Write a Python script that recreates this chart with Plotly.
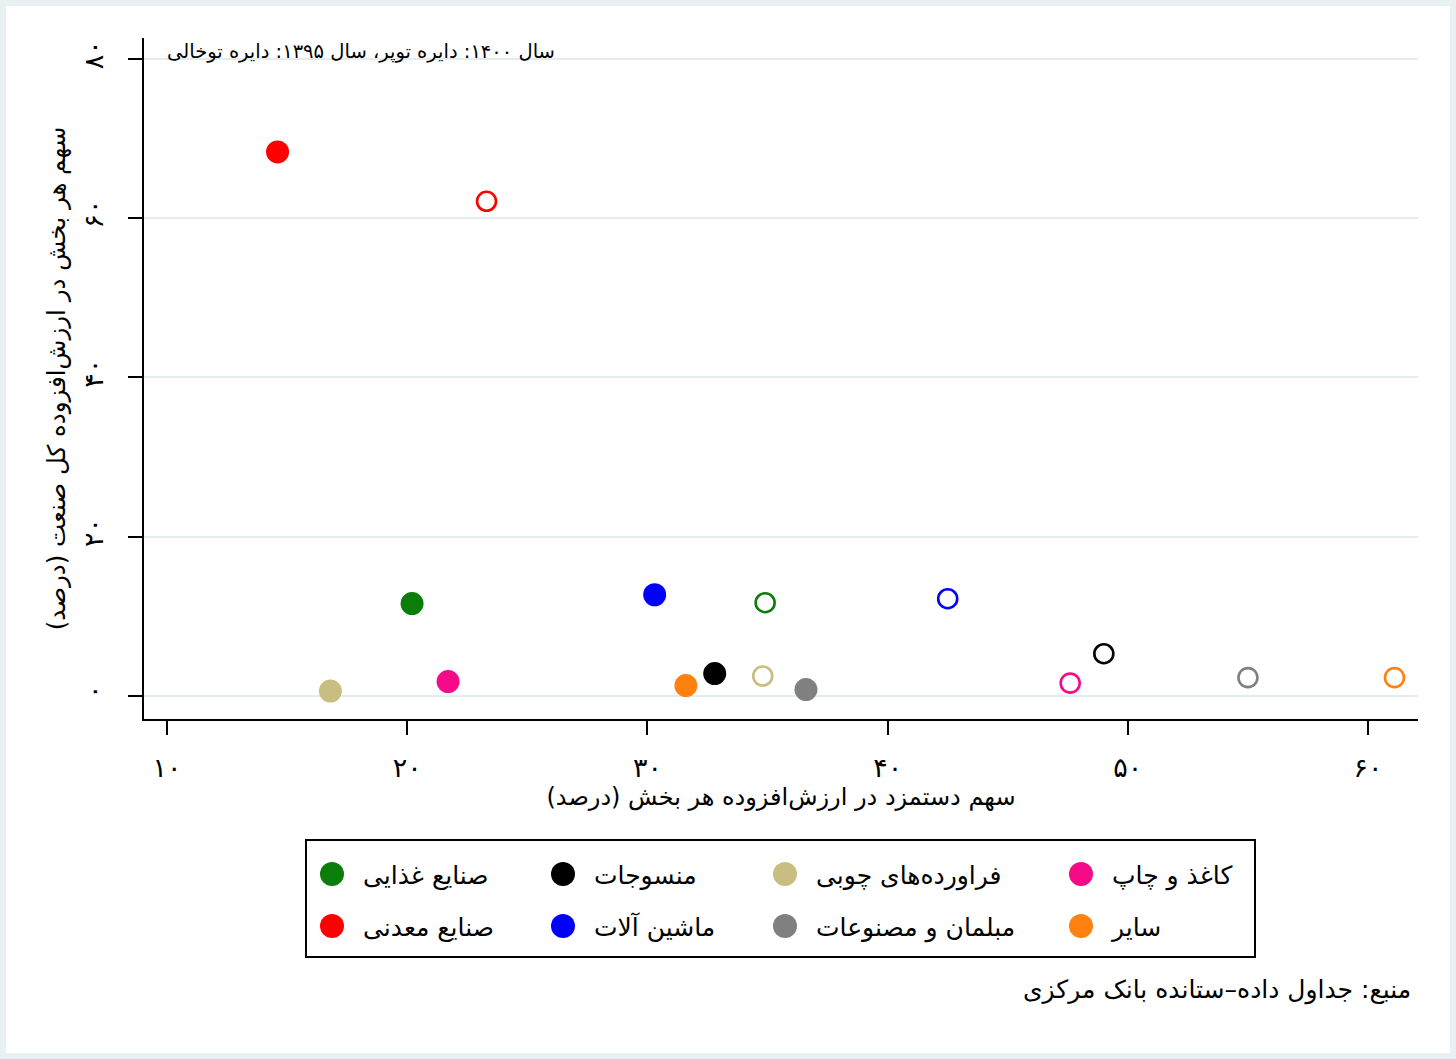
import plotly.graph_objects as go

# sectors, in legend order (row 1 then row 2)
sectors = ["صنایع غذایی", "منسوجات", "فراورده‌های چوبی", "کاغذ و چاپ",
           "صنایع معدنی", "ماشین آلات", "مبلمان و مصنوعات", "سایر"]
colors = ["#0a7d0a", "#000000", "#c8be82", "#f50a87",
          "#ff0000", "#0000ff", "#808080", "#ff8210"]

# year 1400 (filled circles)
wage_1400 = [20.2, 32.8, 16.8, 21.7, 14.6, 30.3, 36.6, 31.6]
share_1400 = [11.6, 2.8, 0.6, 1.8, 68.3, 12.7, 0.8, 1.3]

# year 1395 (open circles)
wage_1395 = [34.9, 49.0, 34.8, 47.6, 23.3, 42.5, 55.0, 61.1]
share_1395 = [11.7, 5.3, 2.5, 1.6, 62.1, 12.2, 2.3, 2.3]

x_ticks = [10, 20, 30, 40, 50, 60]
y_ticks = [0, 20, 40, 60, 80]

x_title = "سهم دستمزد در ارزش‌افزوده هر بخش (درصد)\u200f"
y_title = "سهم هر بخش در ارزش‌افزوده کل صنعت (درصد)\u200f"
note = "سال ۱۴۰۰: دایره توپر، سال ۱۳۹۵: دایره توخالی"
source = "منبع: جداول داده–ستانده بانک مرکزی"

FONT = "DejaVu Sans"


def to_fa(n):
    return str(n).translate(str.maketrans("0123456789", "۰۱۲۳۴۵۶۷۸۹"))


fig = go.Figure()

# open circles first, filled on top
for i, name in enumerate(sectors):
    fig.add_trace(go.Scatter(
        x=[wage_1395[i]], y=[share_1395[i]],
        mode="markers",
        marker=dict(symbol="circle-open", size=19, color=colors[i],
                    line=dict(width=2.6, color=colors[i])),
        name=name + " ۱۳۹۵", showlegend=False,
    ))
for i, name in enumerate(sectors):
    fig.add_trace(go.Scatter(
        x=[wage_1400[i]], y=[share_1400[i]],
        mode="markers",
        marker=dict(symbol="circle", size=23, color=colors[i]),
        name=name + " ۱۴۰۰", showlegend=False,
    ))

# hand-made legend in its own small axes (4 columns x 2 rows)
col_x = [26, 257, 479, 775]
row_y = [34, 86]
leg_x = [col_x[i % 4] for i in range(len(sectors))]
leg_y = [row_y[i // 4] for i in range(len(sectors))]
fig.add_trace(go.Scatter(
    x=leg_x, y=leg_y, mode="markers",
    marker=dict(symbol="circle", size=24, color=colors),
    xaxis="x2", yaxis="y2", showlegend=False, hoverinfo="skip",
))
fig.add_trace(go.Scatter(
    x=[v + 31 for v in leg_x], y=[v + 4 for v in leg_y], mode="text",
    text=sectors, textposition="middle right",
    textfont=dict(family=FONT, size=25, color="black"),
    xaxis="x2", yaxis="y2", showlegend=False, hoverinfo="skip",
))

W, H = 1456, 1059
ml, mr, mt, mb = 144, 38, 38, 20
pw, ph = W - ml - mr, H - mt - mb


def px_x(p):
    return (p - ml) / pw


def px_y(p):
    return (H - mb - p) / ph


fig.update_layout(
    width=W, height=H,
    margin=dict(l=ml, r=mr, t=mt, b=mb),
    paper_bgcolor="white", plot_bgcolor="white",
    font=dict(family=FONT, size=20, color="black"),
    showlegend=False,
    xaxis=dict(
        domain=[0, 1], range=[9.04, 62.08],
        tickvals=x_ticks, ticktext=[to_fa(v) for v in x_ticks],
        showgrid=False, zeroline=False,
        showline=True, linecolor="black", linewidth=2,
        ticks="outside", ticklen=14, tickwidth=2, tickcolor="black",
        ticklabelstandoff=10,
        tickfont=dict(size=27),
        title=dict(text=x_title, font=dict(size=24), standoff=0),
        anchor="y",
    ),
    yaxis=dict(
        domain=[px_y(719), 1], range=[-2.9, 82.6],
        tickvals=y_ticks, ticktext=[to_fa(v) for v in y_ticks],
        tickangle=-90,
        showgrid=True, gridcolor="#e3ecef", gridwidth=2,
        zeroline=False,
        showline=True, linecolor="black", linewidth=2,
        ticks="outside", ticklen=14, tickwidth=2, tickcolor="black",
        ticklabelstandoff=14,
        tickfont=dict(size=27),
        title=dict(text=y_title, font=dict(size=24.5), standoff=6),
        anchor="x",
    ),
    xaxis2=dict(domain=[px_x(306), px_x(1255)], range=[0, 949],
                visible=False, fixedrange=True, anchor="y2"),
    yaxis2=dict(domain=[px_y(957), px_y(840)], range=[117, 0],
                visible=False, fixedrange=True, anchor="x2"),
    shapes=[
        dict(type="rect", xref="x2 domain", yref="y2 domain",
             x0=0, x1=1, y0=0, y1=1, line=dict(color="black", width=2)),
        dict(type="rect", xref="paper", yref="paper",
             x0=px_x(3), x1=px_x(W - 3), y0=px_y(H - 3), y1=px_y(3),
             line=dict(color="#e8f0f2", width=6), layer="below"),
    ],
    annotations=[
        dict(text=note, xref="paper", yref="paper",
             x=px_x(165), y=px_y(52), xanchor="left", yanchor="middle",
             showarrow=False, font=dict(size=19.5)),
        dict(text=source, xref="paper", yref="paper",
             x=px_x(1413), y=px_y(990), xanchor="right", yanchor="middle",
             showarrow=False, font=dict(size=25)),
    ],
)

# drop the default 8px page margin so the figure sits at the window corner
fig.write_html("out.html", config={"displayModeBar": False},
               post_script="document.body.style.margin='0';")
